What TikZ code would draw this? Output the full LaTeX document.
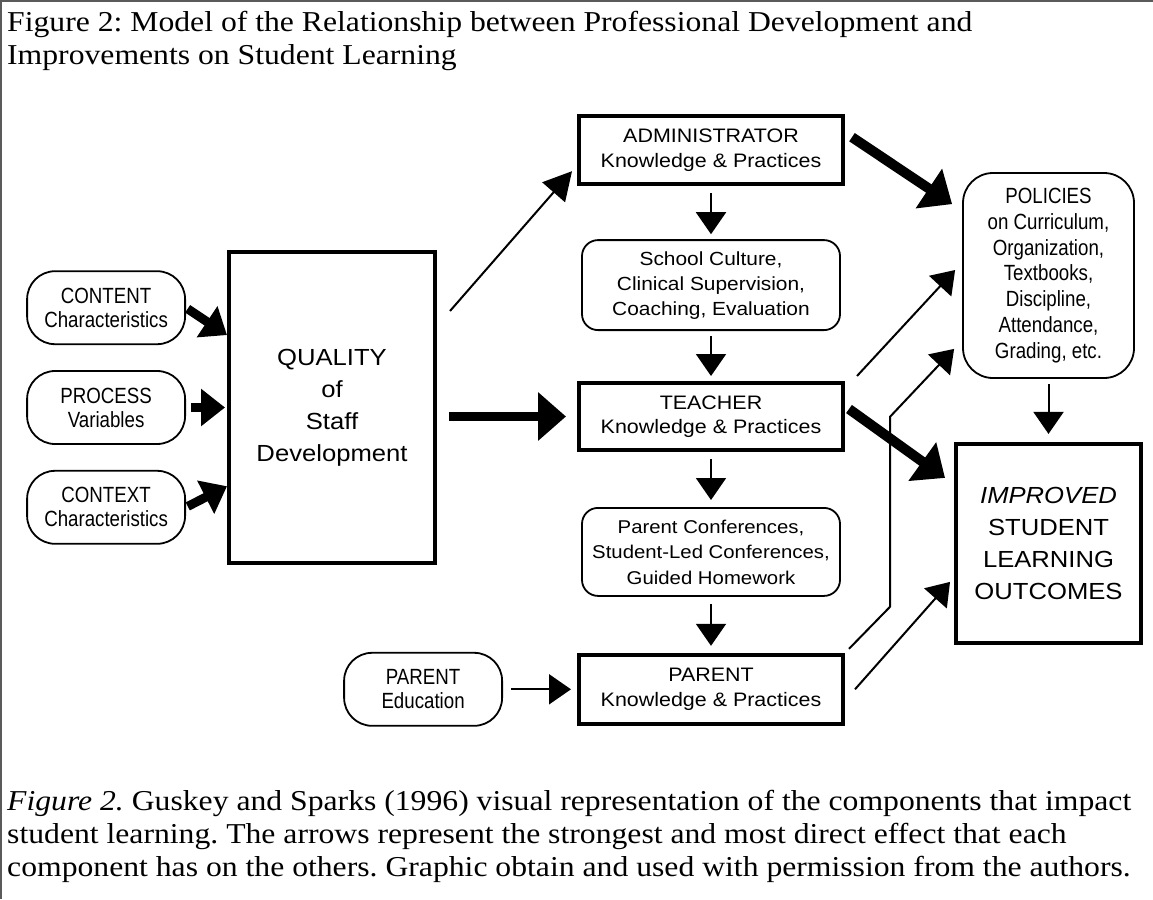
\documentclass[tikz,border=0pt]{standalone}
\usepackage{fontspec}
\setmainfont[FakeStretch=1.1]{Liberation Serif}
\newfontfamily\boxfont[FakeStretch=1.1]{Liberation Sans}
\newfontfamily\narrowfont[FakeStretch=0.85]{Liberation Sans}
\usetikzlibrary{arrows.meta, positioning, calc}
\definecolor{FrameGrey}{RGB}{90, 90, 90}
\frenchspacing

\begin{document}
\begin{tikzpicture}[
        x = 1pt, y = 1pt,
        box/.style = {draw, line width = 4pt, align = center, inner sep = 0pt, font = \boxfont\fontsize{19.5}{24.5}\selectfont},
        pill/.style = {draw, line width = 1.8pt, rounded corners = 28pt, align = center, inner sep = 0pt, minimum width = 158pt, minimum height = 73pt, font = \narrowfont\fontsize{22}{24}\selectfont},
        soft/.style = {draw, line width = 1.8pt, rounded corners = 16pt, align = center, inner sep = 0pt, minimum width = 258pt, font = \boxfont\fontsize{19}{25}\selectfont},
        txt/.style = {anchor = north west, inner sep = 0pt, align = left, font = \fontsize{28.8}{33}\selectfont},
        frame/.style = {FrameGrey, line width = 2pt},
        arr/.style = {-{Triangle[length = 22pt, width = 30pt]}, line width = 2pt},
        fat/.style = {-{Triangle[length = 28pt, width = 46pt]}, line width = 10pt},
        stub/.style = {-{Triangle[length = 24pt, width = 36pt]}, line width = 9pt}
    ]
        \useasboundingbox (0, 0) rectangle (1153, -899);
        \draw[frame] (0, -1) -- (1153, -1);
        \draw[frame] (1, 0) -- (1, -899);

        \node[txt] (title) at (7, -11) {
            Figure 2: Model of the Relationship between Professional Development and
            \\
            Improvements on Student Learning
        };

        \node[box, minimum width = 206pt, minimum height = 311pt, font = \boxfont\fontsize{23.3}{32}\selectfont] (quality) at (332, -407.5) {
            QUALITY\\of\\Staff\\Development
        };
        \node[pill, left = 41pt of quality] (process) {PROCESS\\Variables};
        \node[pill, above = 25pt of process] (content) {CONTENT\\Characteristics};
        \node[pill, below = 25pt of process] (context) {CONTEXT\\Characteristics};

        \node[box, minimum width = 264pt, minimum height = 67pt] (teacher) at (711, -416.5) {
            TEACHER\\Knowledge \& Practices
        };
        \node[soft, minimum height = 90pt, above = 50pt of teacher] (school) {
            School Culture,\\Clinical Supervision,\\Coaching, Evaluation
        };
        \node[box, minimum width = 264pt, minimum height = 68pt, above = 53pt of school] (admin) {
            ADMINISTRATOR\\Knowledge \& Practices
        };
        \node[soft, minimum height = 88pt, below = 55pt of teacher, font = \boxfont\fontsize{18.5}{25.5}\selectfont] (confer) {
            Parent Conferences,\\Student-Led Conferences,\\Guided Homework
        };
        \node[box, minimum width = 264pt, minimum height = 69pt, below = 56pt of confer] (parent) {
            PARENT\\Knowledge \& Practices
        };
        \node[pill, left = 74pt of parent] (educ) {PARENT\\Education};

        \node[pill, rounded corners = 30pt, minimum width = 171pt, minimum height = 205pt, font = \narrowfont\fontsize{22}{25.7}\selectfont] (policies) at (1048.5, -275.5) {
            POLICIES\\on Curriculum,\\Organization,\\Textbooks,\\Discipline,\\Attendance,\\Grading, etc.
        };
        \node[box, minimum width = 185pt, minimum height = 199pt, below = 63pt of policies, font = \boxfont\fontsize{23.3}{32}\selectfont] (improved) {
            \textit{IMPROVED}\\STUDENT\\LEARNING\\OUTCOMES
        };

        % inputs into staff development
        \draw[stub, shorten <= 2pt] (content.east) -- ($(quality.north west)!0.27!(quality.south west)$);
        \draw[stub, shorten <= 5pt, shorten >= 2pt] (process.east) -- (process.east -| quality.west);
        \draw[stub, shorten <= 2pt] (context.east) -- ($(quality.north west)!0.75!(quality.south west)$);

        \draw[arr, -{Triangle[length = 28pt, width = 30pt]}] ([shift = {(13pt, -61pt)}]quality.north east) -- ([shift = {(-5pt, 15pt)}]admin.south west);
        \draw[fat, -{Triangle[length = 28pt, width = 47pt]}, line width = 9pt, shorten <= 12pt, shorten >= 11pt] (quality.east |- teacher.west) -- (teacher.west);

        % middle column
        \draw[arr, shorten <= 7pt, shorten >= 5pt] (admin) -- (school);
        \draw[arr, shorten <= 5pt, shorten >= 5pt] (school) -- (teacher);
        \draw[arr, shorten <= 7pt, shorten >= 7pt] (teacher) -- (confer);
        \draw[arr, shorten <= 7pt, shorten >= 7pt] (confer) -- (parent);
        \draw[arr, shorten <= 8pt, shorten >= 6pt] (educ.east) -- (educ.east -| parent.west);

        % towards policies and outcomes
        \draw[fat] ([shift = {(7pt, 13pt)}]admin.east) -- ([shift = {(-10pt, -32pt)}]policies.north west);
        \draw[arr] ([shift = {(12pt, 5pt)}]teacher.north east) -- ([shift = {(-7pt, 5.5pt)}]policies.west);
        \draw[fat] ([shift = {(4pt, 7.5pt)}]teacher.east) -- ([shift = {(-9pt, -36pt)}]improved.north west);
        \draw[arr] ([shift = {(4pt, 4pt)}]parent.north east) -- ++(41pt, 42pt) -- ++(0pt, 190pt) -- ([shift = {(-8pt, 30pt)}]policies.south west);
        \draw[arr] ([xshift = 10pt]parent.east) -- ([shift = {(-4pt, 63pt)}]improved.south west);
        \draw[arr, shorten <= 5pt, shorten >= 8pt] (policies) -- (improved);

        \node[txt] (caption) at (7, -790) {
            \textit{Figure 2.} Guskey and Sparks (1996) visual representation of the components that impact
            \\
            student learning. The arrows represent the strongest and most direct effect that each
            \\
            component has on the others. Graphic obtain and used with permission from the authors.
        };
    \end{tikzpicture}
\end{document}
